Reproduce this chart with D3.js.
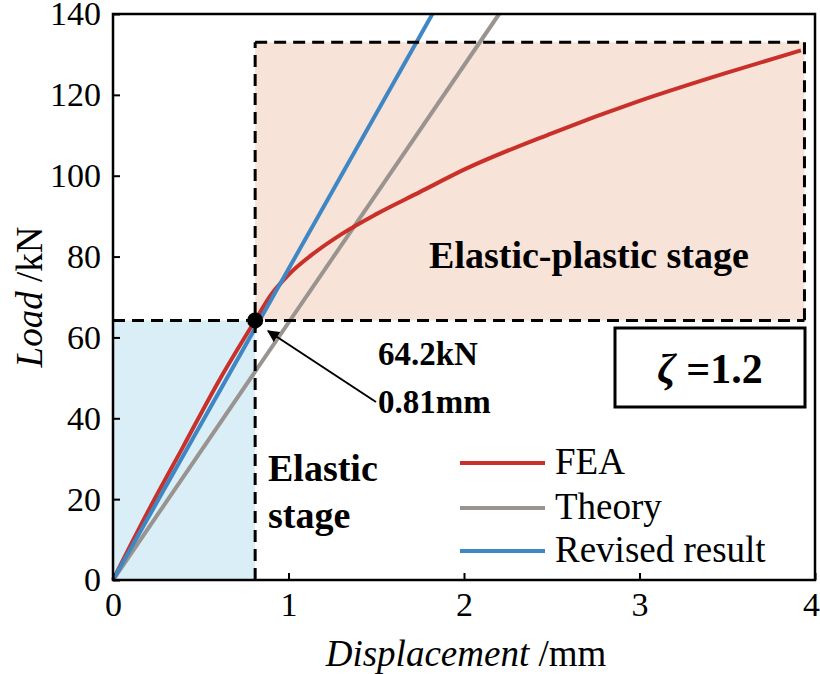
<!DOCTYPE html>
<html><head><meta charset="utf-8">
<script src="https://cdn.jsdelivr.net/npm/d3@7"></script>
<style>
body{margin:0;background:#fff}
svg text{font-family:"Liberation Serif","Times New Roman",serif !important;fill:#000}
</style></head><body>
<script>
// data
var feaX = [0, 0.2, 0.4, 0.6, 0.81, 0.9, 1.0, 1.15, 1.3, 1.5, 1.75, 2.0, 2.5, 3.0, 3.5, 3.92];
var feaY = [0, 17, 33, 49, 64.2, 70.5, 75.5, 81, 85.5, 90.5, 96, 101.5, 110.5, 118.5, 125.5, 131];
var theoryX = [0, 2.2];
var theoryY = [0, 140];
var revisedX = [0, 1.82];
var revisedY = [0, 140];
var xTicks = [0, 1, 2, 3, 4];
var yTicks = [0, 20, 40, 60, 80, 100, 120, 140];
var yieldPt = [0.81, 64.2];
var plasticTop = 133, plasticRight = 3.94;

var W = 820, H = 674;
var svg = d3.select("body").append("svg").attr("width", W).attr("height", H);
var x = d3.scaleLinear().domain([0, 4]).range([113, 815]);
var y = d3.scaleLinear().domain([0, 140]).range([580, 14]);

// shaded stage regions
svg.append("rect").attr("x", x(0)).attr("y", y(yieldPt[1]))
    .attr("width", x(yieldPt[0]) - x(0)).attr("height", y(0) - y(yieldPt[1]))
    .attr("fill", "#d9eef6");
svg.append("rect").attr("x", x(yieldPt[0])).attr("y", y(plasticTop))
    .attr("width", x(plasticRight) - x(yieldPt[0])).attr("height", y(yieldPt[1]) - y(plasticTop))
    .attr("fill", "#f8e3d8");

var line = d3.line().x(function(d){ return x(d[0]); }).y(function(d){ return y(d[1]); });
var zip = function(a, b){ return a.map(function(v, i){ return [v, b[i]]; }); };
var curve = d3.line().curve(d3.curveMonotoneX).x(function(d){ return x(d[0]); }).y(function(d){ return y(d[1]); });

var g = svg.append("g");
g.append("path").attr("d", line(zip(theoryX, theoryY))).attr("stroke", "#9a9490").attr("stroke-width", 4).attr("fill", "none");
g.append("path").attr("d", curve(zip(feaX, feaY))).attr("stroke", "#c9302a").attr("stroke-width", 4).attr("fill", "none");
g.append("path").attr("d", line(zip(revisedX, revisedY))).attr("stroke", "#3f87c4").attr("stroke-width", 4).attr("fill", "none");

svg.append("rect").attr("x", 0).attr("y", 0).attr("width", W).attr("height", 12).attr("fill", "#fff");

// dashed boundaries
var dash = function(x1, y1, x2, y2){
    svg.append("line").attr("x1", x(x1)).attr("y1", y(y1)).attr("x2", x(x2)).attr("y2", y(y2))
        .attr("stroke", "#000").attr("stroke-width", 3).attr("stroke-dasharray", "12,7");
};
dash(0, yieldPt[1], plasticRight, yieldPt[1]);
dash(yieldPt[0], 0, yieldPt[0], plasticTop);
dash(yieldPt[0], plasticTop, plasticRight, plasticTop);
dash(plasticRight, plasticTop, plasticRight, yieldPt[1]);

// frame + axes
svg.append("rect").attr("x", 113).attr("y", 14).attr("width", 702).attr("height", 566)
    .attr("fill", "none").attr("stroke", "#000").attr("stroke-width", 2.5);
var xa = svg.append("g").attr("transform", "translate(0,580)")
    .call(d3.axisBottom(x).tickValues(xTicks).tickSize(-7).tickPadding(12).tickFormat(d3.format("d")));
var ya = svg.append("g").attr("transform", "translate(113,0)")
    .call(d3.axisLeft(y).tickValues(yTicks).tickSize(-7).tickPadding(12));
[xa, ya].forEach(function(a){
    a.attr("font-family", null);
    a.select(".domain").remove();
    a.selectAll("line").attr("stroke", "#000").attr("stroke-width", 2);
    a.selectAll("text").attr("font-size", 34);
});
xa.selectAll(".tick").filter(function(d){ return d === 4; }).select("text").attr("dx", -4);

// yield point + annotation
svg.append("circle").attr("cx", x(yieldPt[0])).attr("cy", y(yieldPt[1])).attr("r", 8).attr("fill", "#000");
svg.append("defs").append("marker").attr("id", "ah").attr("viewBox", "0 0 10 10").attr("refX", 9).attr("refY", 5)
    .attr("markerWidth", 6).attr("markerHeight", 6).attr("orient", "auto")
    .append("path").attr("d", "M0,0L10,5L0,10z").attr("fill", "#000");
svg.append("line").attr("x1", 376).attr("y1", 402).attr("x2", 268).attr("y2", 331)
    .attr("stroke", "#000").attr("stroke-width", 2).attr("marker-end", "url(#ah)");
svg.append("text").attr("x", 378).attr("y", 365).attr("font-size", 33).attr("font-weight", "bold").text("64.2kN");
svg.append("text").attr("x", 378).attr("y", 413).attr("font-size", 33).attr("font-weight", "bold").text("0.81mm");

svg.append("text").attr("x", 589).attr("y", 268).attr("text-anchor", "middle").attr("font-size", 38).attr("font-weight", "bold").text("Elastic-plastic stage");
svg.append("text").attr("x", 268).attr("y", 481).attr("font-size", 38).attr("font-weight", "bold").text("Elastic");
svg.append("text").attr("x", 268).attr("y", 528).attr("font-size", 38).attr("font-weight", "bold").text("stage");

// zeta box
svg.append("rect").attr("x", 615).attr("y", 328).attr("width", 190).attr("height", 79)
    .attr("fill", "#fff").attr("stroke", "#000").attr("stroke-width", 3);
var zt = svg.append("text").attr("x", 710).attr("y", 383).attr("text-anchor", "middle").attr("font-size", 42).attr("font-weight", "bold");
zt.append("tspan").attr("font-style", "italic").text("ζ");
zt.append("tspan").text(" =1.2");

// legend
var legNames = ["FEA", "Theory", "Revised result"];
var legColors = ["#c9302a", "#9a9490", "#3f87c4"];
var legY = [463, 508, 551];
legNames.forEach(function(n, i){
    svg.append("line").attr("x1", 460).attr("x2", 545).attr("y1", legY[i]).attr("y2", legY[i])
        .attr("stroke", legColors[i]).attr("stroke-width", 4);
    svg.append("text").attr("x", 555).attr("y", legY[i] + 11).attr("font-size", 37).text(n);
});

// axis titles
var xt = svg.append("text").attr("x", 466).attr("y", 666).attr("text-anchor", "middle").attr("font-size", 37);
xt.append("tspan").attr("font-style", "italic").text("Displacement");
xt.append("tspan").text(" /mm");
var yt = svg.append("text").attr("transform", "translate(42,297) rotate(-90)").attr("text-anchor", "middle").attr("font-size", 37);
yt.append("tspan").attr("font-style", "italic").text("Load");
yt.append("tspan").text(" /kN");
</script>
</body></html>
